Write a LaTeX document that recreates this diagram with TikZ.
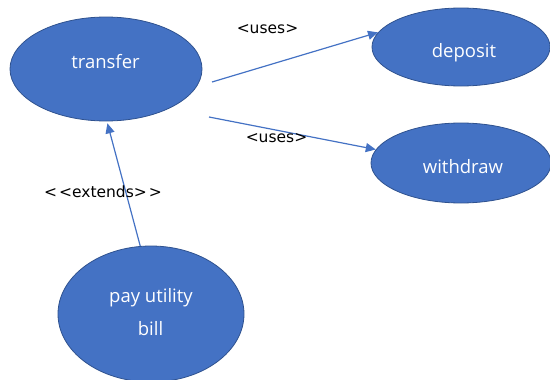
\documentclass[tikz,border=0pt]{standalone}
\usepackage{fontspec}
\setmainfont{Open Sans}
\newfontfamily\lblfont{DejaVu Sans}
\usetikzlibrary{shapes.geometric,arrows.meta}
\definecolor{ublue}{HTML}{4472C4}
\definecolor{uedge}{HTML}{2F528F}
\begin{document}
\begin{tikzpicture}[x=1pt,y=-1pt,
  usecase/.style={ellipse,draw=uedge,line width=0.8pt,fill=ublue,inner sep=0pt},
  uctext/.style={anchor=base,text=white,inner sep=0pt,font=\fontsize{18.5}{22}\selectfont},
  lbl/.style={anchor=base,inner sep=0pt,text=black,font=\lblfont\fontsize{15.5}{18}\selectfont},
  conn/.style={draw=ublue,line width=1.2pt,-{Triangle[length=10pt,width=9pt]}}]
\useasboundingbox (0,0) rectangle (550,380);
% use cases
\node[usecase,minimum width=192pt,minimum height=104pt] (transfer) at (106,69) {};
\node[usecase,minimum width=178pt,minimum height=78pt] (deposit) at (461,47) {};
\node[usecase,minimum width=180pt,minimum height=80pt] (withdraw) at (461,163) {};
\node[usecase,minimum width=186pt,minimum height=136pt] (pay) at (151,314) {};
% texts
\node[uctext] (ttransfer) at (105.5,68) {transfer};
\node[uctext] (tdeposit) at (464,57) {deposit};
\node[uctext] (twithdraw) at (463,173) {withdraw};
\node[uctext] (tpay1) at (151,302) {pay utility};
\node[uctext] (tpay2) at (150.5,335) {bill};
% connectors
\coordinate (s1) at (212,82);
\coordinate (s2) at (209,117);
\draw[conn] (s1) -- (deposit.170);
\draw[conn] (s2) -- (withdraw.171);
\draw[conn,shorten >=2pt] (pay.99) -- (transfer.271);
% labels
\node[lbl] (l1) at (267.5,34) {<uses>};
\node[lbl] (l2) at (276.5,142) {<uses>};
\node[lbl] (l3) at (103,197) {<\kern2pt<extends>\kern2pt>};
\end{tikzpicture}
\end{document}
